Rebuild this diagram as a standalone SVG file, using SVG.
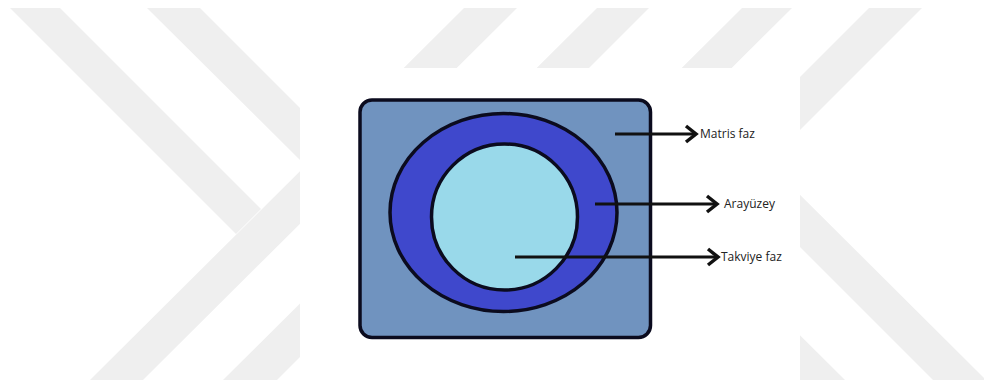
<svg xmlns="http://www.w3.org/2000/svg" width="984" height="383" viewBox="0 0 984 383">
  <defs>
    <clipPath id="wmClip">
      <path d="M0,8 H984 V380 H0 Z M300,68 V380 H800 V68 Z" clip-rule="evenodd"/>
    </clipPath>
    <marker id="arrowHead" markerUnits="userSpaceOnUse" viewBox="-3 -3 16 22" markerWidth="16" markerHeight="22" refX="10" refY="8" orient="auto">
      <path d="M0,0 L10,8 L0,16" fill="none" stroke="#111" stroke-width="3.5" stroke-linejoin="miter"/>
    </marker>
  </defs>
  <style>
    .wm { fill: #efefef; }
    .shape { stroke: #0b0b1e; stroke-width: 3.5; }
    .conn { stroke: #111; stroke-width: 3; fill: none; marker-end: url(#arrowHead); }
    .label { font-family: "Open Sans", "Liberation Sans", sans-serif; font-size: 12px; fill: #222; }
  </style>
  <rect width="984" height="383" fill="#ffffff"/>
  <g id="watermark" clip-path="url(#wmClip)">
    <!-- "\" band 1 ending at the big "/" band -->
    <polygon class="wm" points="10,8 60,8 261,209 236,234"/>
    <!-- "\" band 2 -->
    <polygon class="wm" points="147,8 200,8 340,148 305,165"/>
    <!-- "/" bands -->
    <polygon class="wm" points="90,380 143,380 517,8 464,8"/>
    <polygon class="wm" points="223,380 277,380 649,8 597,8"/>
    <polygon class="wm" points="742,8 792,8 418,380 368,380"/>
    <polygon class="wm" points="869,8 922,8 550,380 497,380"/>
    <!-- "\" bands on the right, starting from the "/" bands -->
    <polygon class="wm" points="740,135 714,161 933,380 986,380"/>
    <polygon class="wm" points="606,142 580,168 792,380 845,380"/>
  </g>
  <g id="matris">
    <rect class="shape" x="360" y="100" width="290.5" height="237.5" rx="12" ry="12" fill="#7093bf"/>
  </g>
  <g id="arayuzey">
    <ellipse class="shape" cx="503.5" cy="212.5" rx="113.5" ry="99" fill="#3f48cc"/>
  </g>
  <g id="takviye">
    <circle class="shape" cx="504.5" cy="217" r="73" fill="#99d9ea"/>
  </g>
  <g id="connectors">
    <line class="conn" x1="615" y1="134" x2="696" y2="134"/>
    <line class="conn" x1="595" y1="204" x2="717" y2="204"/>
    <line class="conn" x1="515" y1="257" x2="718" y2="257"/>
  </g>
  <g id="labels">
    <text class="label" x="700" y="138.3">Matris faz</text>
    <text class="label" x="724" y="208.3">Arayüzey</text>
    <text class="label" x="721" y="261.3">Takviye faz</text>
  </g>
</svg>
